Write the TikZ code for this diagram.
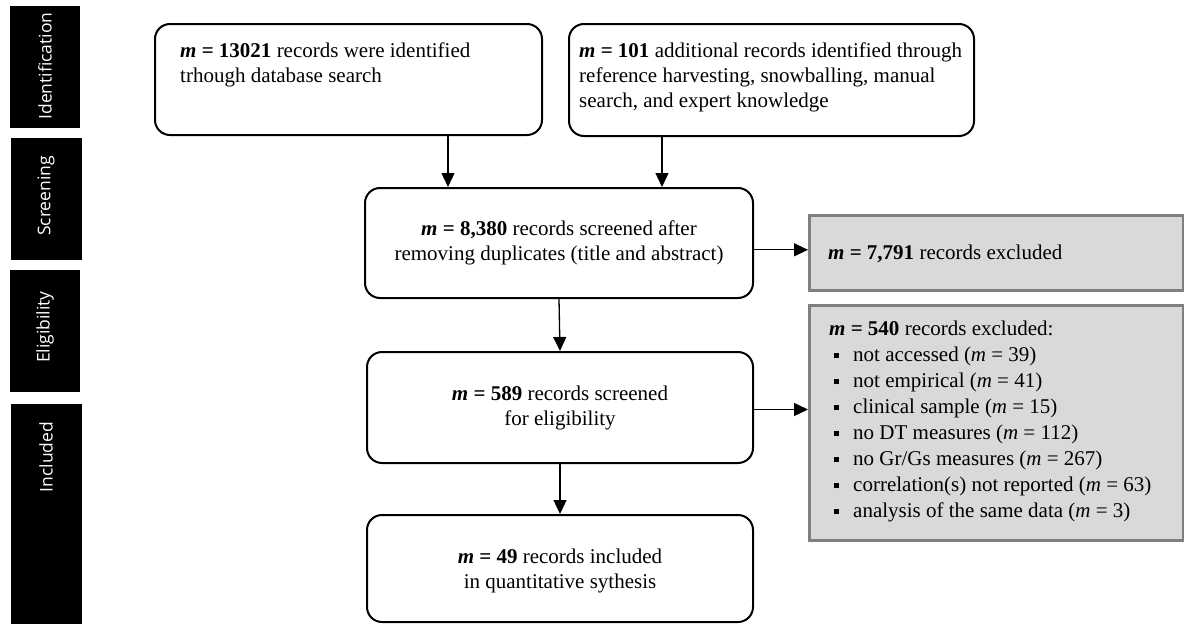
\documentclass[tikz,border=0pt]{standalone}
\usepackage{fontspec}
\setmainfont{Liberation Serif}
\newfontfamily\phasefont{Open Sans}
\usetikzlibrary{arrows.meta}
\definecolor{greyfill}{HTML}{D9D9D9}
\definecolor{greyline}{HTML}{7F7F7F}
\newcommand{\mybul}{\hspace*{5pt}\rule[3.5pt]{5pt}{5pt}\hspace*{14pt}}
\begin{document}
\begin{tikzpicture}[x=1pt,y=-1pt,
  rbox/.style={draw=black, line width=2pt, rounded corners=15pt, inner sep=0pt, anchor=north west},
  gbox/.style={draw=greyline, fill=greyfill, line width=2.6pt, inner sep=0pt, anchor=north west},
  phase/.style={fill=black, inner sep=0pt, anchor=north west},
  phtext/.style={text=white, rotate=90, inner sep=0pt, font=\phasefont\fontsize{17.5}{20}\selectfont},
  arr/.style={-{Triangle[length=14pt,width=13pt]}, line width=1.3pt},
  txt/.style={font=\fontsize{21}{25}\selectfont, inner sep=0pt}]
\useasboundingbox (0,0) rectangle (1184,624);

% phase labels
\node[phase, minimum width=70pt, minimum height=122pt] (p1) at (10,6) {};
\node[phase, minimum width=71pt, minimum height=122pt] (p2) at (11,138) {};
\node[phase, minimum width=70pt, minimum height=122pt] (p3) at (10,270) {};
\node[phase, minimum width=71pt, minimum height=222pt] (p4) at (11,404) {};
\node[phtext] (p1t) at (45,66) {Identification};
\node[phtext] (p2t) at (46,196) {Screening};
\node[phtext] (p3t) at (45,327) {Eligibility};
\node[phtext] (p4t) at (46,457) {Included};

% main boxes
\node[rbox, minimum width=387pt, minimum height=111pt] (b1) at (154,23) {};
\node[rbox, minimum width=405pt, minimum height=112pt] (b2) at (568,23) {};
\node[rbox, minimum width=388pt, minimum height=110pt] (b3) at (364,187) {};
\node[rbox, minimum width=386pt, minimum height=111pt] (b4) at (366,351) {};
\node[rbox, minimum width=386pt, minimum height=107pt] (b5) at (366,514) {};

\node[txt, align=left, anchor=north west] (b1t) at (180,43)
  {\textbf{\textit{m} = 13021} records were identified\\trhough database search};
\node[txt, align=left, anchor=north west] (b2t) at (579,43)
  {\textbf{\textit{m} = 101} additional records identified through\\reference harvesting, snowballing, manual\\search, and expert knowledge};
\node[txt, align=center] (b3t) at (b3.center)
  {\textbf{\textit{m} = 8,380} records screened after\\removing duplicates (title and abstract)};
\node[txt, align=center] (b4t) at (b4.center)
  {\textbf{\textit{m} = 589} records screened\\for eligibility};
\node[txt, align=center] (b5t) at ([yshift=-2pt]b5.center)
  {\textbf{\textit{m} = 49} records included\\in quantitative sythesis};

% grey boxes
\node[gbox, minimum width=374pt, minimum height=75pt] (g1) at (808,214) {};
\node[gbox, minimum width=374pt, minimum height=235pt] (g2) at (808,304) {};
\node[txt, anchor=base west] (g1t) at (828,259) {\textbf{\textit{m} = 7,791} records excluded};
\node[txt, align=left, anchor=north west, font=\fontsize{21}{26}\selectfont] (g2t) at (829,321)
  {\textbf{\textit{m} = 540} records excluded:\\
   \mybul not accessed (\textit{m} = 39)\\
   \mybul not empirical (\textit{m} = 41)\\
   \mybul clinical sample (\textit{m} = 15)\\
   \mybul no DT measures (\textit{m} = 112)\\
   \mybul no Gr/Gs measures (\textit{m} = 267)\\
   \mybul correlation(s) not reported (\textit{m} = 63)\\
   \mybul analysis of the same data (\textit{m} = 3)};

% connectors
\coordinate (c1) at (448,0);
\coordinate (c2) at (662,0);
\draw[arr] (b1.south -| c1) -- (b3.north -| c1);
\draw[arr] (b2.south -| c2) -- (b3.north -| c2);
\draw[arr] (b3.south) -- (b4.north);
\draw[arr] (b4.south) -- (b5.north);
\draw[arr] ([yshift=3pt]b3.east |- g1.west) -- ([yshift=3pt]g1.west);
\draw[arr] ([yshift=-2pt]b4.east) -- ([yshift=-2pt]b4.east -| g2.west);
\end{tikzpicture}
\end{document}
